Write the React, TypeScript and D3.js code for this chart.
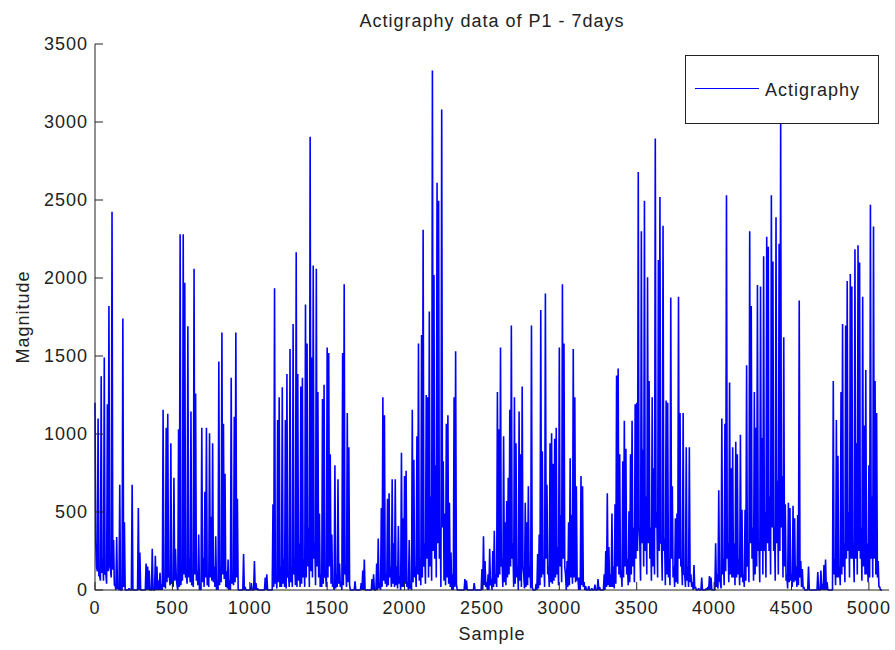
import React from 'react';
import * as d3 from 'd3';

// the trace is far denser than one point per pixel, so it is kept as
// a top value and a bottom value for every SAMPLE_STEP samples
const SAMPLE_STEP = 10;
const magnitude = [
  1200, 150, 1100, 90, 1370, 200, 1490, 110, 1190, 1820, 130, 2425, 320, 30, 340, 10, 675, 0, 1740, 435,
  0, 0, 10, 0, 675, 0, 0, 0, 525, 240, 0, 0, 0, 170, 150, 125, 0, 265, 0, 220,
  150, 60, 110, 40, 1155, 50, 1040, 1130, 90, 940, 60, 720, 265, 30, 1030, 2280, 150, 2280, 1970, 100,
  1690, 200, 1145, 80, 2060, 1260, 120, 355, 20, 1040, 205, 630, 1040, 90, 1005, 470, 940, 150, 345, 60,
  1465, 150, 1650, 1065, 745, 120, 195, 60, 1360, 110, 1110, 1650, 585, 0, 0, 0, 230, 20, 0, 0,
  0, 45, 0, 185, 45, 10, 0, 0, 0, 0, 80, 100, 0, 0, 0, 550, 1935, 90, 1090, 1235,
  150, 1300, 200, 1090, 1385, 100, 1545, 150, 1705, 200, 2165, 1385, 300, 1305, 1360, 200, 1830, 1580, 400, 2905,
  1490, 2080, 300, 2060, 1270, 490, 100, 1225, 1315, 100, 1555, 1520, 870, 355, 40, 800, 100, 710, 170, 50,
  1520, 1960, 150, 1135, 915, 0, 0, 0, 55, 0, 0, 0, 45, 125, 195, 0, 0, 0, 0, 70,
  100, 0, 170, 330, 50, 525, 1235, 1120, 100, 585, 620, 150, 710, 300, 710, 150, 410, 90, 880, 460,
  730, 765, 50, 320, 30, 1155, 835, 150, 985, 1580, 200, 1635, 2310, 300, 1250, 1235, 1785, 600, 3330, 2020,
  800, 2610, 2495, 400, 3080, 825, 490, 1065, 1120, 560, 240, 100, 1235, 1530, 0, 0, 0, 0, 0, 70,
  60, 0, 0, 0, 0, 45, 0, 0, 0, 0, 135, 345, 185, 50, 100, 265, 70, 250, 380, 100,
  1270, 1030, 1555, 200, 985, 435, 570, 720, 1155, 1695, 300, 1235, 940, 150, 1145, 870, 1305, 100, 560, 435,
  665, 150, 1695, 0, 0, 40, 230, 355, 1795, 890, 200, 1900, 675, 150, 940, 1005, 810, 970, 1040, 275,
  1555, 480, 1960, 1580, 100, 185, 435, 845, 480, 1545, 1235, 665, 80, 80, 730, 665, 50, 25, 0, 25,
  0, 10, 0, 35, 0, 70, 20, 0, 0, 100, 250, 620, 275, 100, 490, 150, 550, 1375, 1420, 870,
  120, 825, 1085, 905, 200, 505, 870, 1085, 400, 1190, 1200, 2680, 300, 2300, 900, 2495, 600, 2005, 1340, 400,
  1235, 780, 2895, 500, 2115, 2520, 300, 2335, 330, 1215, 1200, 200, 1875, 665, 150, 460, 490, 1880, 1135, 200,
  1135, 100, 915, 150, 915, 100, 50, 160, 20, 0, 10, 0, 80, 0, 0, 10, 20, 90, 80, 0,
  0, 300, 100, 640, 50, 1100, 200, 1065, 2530, 300, 1330, 780, 915, 300, 950, 870, 200, 995, 515, 100,
  515, 1440, 300, 2300, 1820, 400, 1270, 1040, 1955, 300, 1945, 975, 2140, 500, 2265, 2200, 600, 2530, 2105, 400,
  2390, 700, 2220, 3000, 730, 1620, 550, 100, 560, 525, 100, 540, 460, 150, 480, 1855, 185, 135, 20, 0,
  0, 150, 0, 0, 0, 0, 0, 115, 0, 125, 40, 160, 195, 50, 0, 0, 0, 1340, 200, 1090,
  860, 150, 1270, 1705, 300, 1695, 1980, 500, 2025, 1945, 300, 2185, 940, 2210, 2100, 400, 1880, 1055, 1410, 300,
  800, 2470, 600, 2330, 1340, 1135, 185, 20, 0,
];

// lower envelope of the same bins
const trough = [
  300, 120, 90, 60, 110, 60, 100, 40, 120, 150, 80, 130, 30, 0, 10, 0, 0, 0, 20, 0,
  0, 0, 0, 0, 0, 0, 0, 0, 0, 0, 0, 0, 0, 0, 0, 0, 0, 0, 0, 0,
  0, 0, 0, 0, 20, 10, 50, 80, 30, 40, 20, 60, 80, 0, 20, 30, 60, 100, 80, 40,
  80, 50, 30, 20, 100, 60, 30, 0, 0, 50, 20, 80, 30, 20, 80, 60, 50, 20, 0, 0,
  30, 50, 100, 70, 20, 10, 0, 0, 40, 30, 50, 80, 0, 0, 0, 0, 0, 0, 0, 0,
  0, 0, 0, 0, 0, 0, 0, 0, 0, 0, 0, 0, 0, 0, 0, 20, 40, 10, 50, 20,
  20, 40, 20, 10, 80, 20, 50, 20, 100, 30, 20, 60, 20, 40, 80, 20, 80, 150, 20, 120,
  80, 200, 30, 150, 80, 20, 20, 40, 80, 20, 80, 150, 40, 20, 0, 10, 20, 40, 20, 0,
  30, 100, 20, 50, 30, 0, 0, 0, 0, 0, 0, 0, 0, 0, 0, 0, 0, 0, 0, 0,
  0, 0, 0, 10, 0, 20, 60, 40, 20, 30, 80, 20, 40, 20, 30, 10, 40, 0, 20, 20,
  40, 20, 0, 10, 0, 50, 80, 20, 100, 60, 30, 80, 150, 40, 200, 80, 150, 60, 250, 200,
  80, 300, 200, 20, 400, 60, 30, 80, 40, 20, 0, 0, 20, 40, 0, 0, 0, 0, 0, 0,
  0, 0, 0, 0, 0, 0, 0, 0, 0, 0, 0, 30, 20, 0, 0, 30, 0, 20, 40, 20,
  80, 100, 150, 20, 50, 30, 80, 100, 150, 200, 20, 40, 80, 0, 60, 20, 150, 10, 20, 30,
  80, 10, 20, 0, 0, 0, 10, 30, 80, 100, 20, 200, 100, 20, 50, 40, 60, 80, 100, 30,
  150, 50, 200, 150, 0, 20, 30, 80, 40, 80, 50, 60, 0, 0, 30, 20, 0, 0, 0, 0,
  0, 0, 0, 0, 0, 0, 0, 0, 0, 0, 20, 30, 20, 20, 20, 10, 40, 150, 100, 80,
  20, 80, 150, 100, 30, 50, 100, 150, 50, 200, 250, 400, 60, 300, 150, 250, 100, 300, 200, 60,
  150, 100, 400, 80, 250, 300, 60, 250, 30, 100, 80, 30, 200, 80, 20, 50, 40, 200, 150, 30,
  100, 20, 60, 20, 50, 20, 0, 10, 0, 0, 0, 0, 0, 0, 0, 0, 0, 0, 0, 0,
  0, 20, 10, 60, 10, 100, 30, 120, 200, 50, 100, 80, 80, 30, 80, 100, 30, 80, 50, 20,
  60, 150, 50, 300, 200, 60, 100, 150, 250, 50, 250, 100, 250, 80, 300, 250, 100, 400, 250, 60,
  300, 100, 250, 400, 80, 150, 60, 10, 50, 60, 20, 50, 60, 20, 30, 80, 20, 10, 0, 0,
  0, 0, 0, 0, 0, 0, 0, 0, 0, 0, 0, 0, 0, 0, 0, 0, 0, 100, 30, 80,
  80, 30, 100, 150, 50, 200, 250, 80, 200, 200, 50, 200, 100, 250, 200, 60, 150, 100, 100, 50,
  80, 200, 80, 200, 100, 80, 20, 0, 0,
];

const xTicks = [0, 500, 1000, 1500, 2000, 2500, 3000, 3500, 4000, 4500, 5000];
const yTicks = [0, 500, 1000, 1500, 2000, 2500, 3000, 3500];
const X_MAX = 5130;
const Y_MAX = 3500;

const FONT = "'Liberation Sans', Arial, Helvetica, sans-serif";

export default function App() {
  const width = 895;
  const height = 650;
  const margin = { top: 44, right: 6, bottom: 60, left: 95 };

  const x = d3.scaleLinear().domain([0, X_MAX]).range([margin.left, width - margin.right]);
  const y = d3.scaleLinear().domain([0, Y_MAX]).range([height - margin.bottom, margin.top]);

  // top then bottom of each bin, in sample order
  const points: [number, number][] = magnitude.flatMap((v, i) => [
    [i * SAMPLE_STEP, v] as [number, number],
    [i * SAMPLE_STEP + SAMPLE_STEP / 2, trough[i]] as [number, number],
  ]);

  const line = d3.line<[number, number]>()
    .x(d => x(d[0]))
    .y(d => y(d[1]));

  const x0 = x.range()[0];
  const x1 = x.range()[1];
  const yb = y.range()[0];
  const yt = y.range()[1];
  const tickLen = 8;
  const txt = { fontFamily: FONT, fontSize: 18, letterSpacing: 1, fill: '#222' };

  return (
    <svg width={width} height={height} style={{ position: 'absolute', left: 0, top: 0, background: '#fff' }}>
      <rect x={0} y={0} width={width} height={height} fill="#fff" />

      {/* data */}
      <path d={line(points) || ''} fill="none" stroke="#0000ff" strokeWidth={1.6} strokeLinejoin="miter" strokeMiterlimit={1} />

      {/* axes */}
      <line x1={x0} x2={x0} y1={yt} y2={yb} stroke="#222" />
      <line x1={x0} x2={x1} y1={yb} y2={yb} stroke="#222" />

      {yTicks.map(t => (
        <g key={'y' + t}>
          <line x1={x0} x2={x0 + tickLen} y1={y(t)} y2={y(t)} stroke="#222" />
          <text x={x0 - 7} y={y(t) + 6} textAnchor="end" {...txt}>{t}</text>
        </g>
      ))}
      {xTicks.map(t => (
        <g key={'x' + t}>
          <line x1={x(t)} x2={x(t)} y1={yb} y2={yb - tickLen} stroke="#222" />
          <text x={x(t)} y={yb + 24} textAnchor="middle" {...txt}>{t}</text>
        </g>
      ))}

      {/* labels */}
      <text x={(x0 + x1) / 2} y={27} textAnchor="middle" {...txt}>Actigraphy data of P1 - 7days</text>
      <text x={(x0 + x1) / 2} y={640} textAnchor="middle" {...txt}>Sample</text>
      <text transform={`translate(29,${(yt + yb) / 2}) rotate(-90)`} textAnchor="middle" {...txt}>Magnitude</text>

      {/* legend */}
      <g>
        <rect x={685.5} y={55.5} width={193} height={68} fill="#fff" stroke="#222" />
        <line x1={695} x2={759} y1={88.5} y2={88.5} stroke="#0000ff" />
        <text x={765} y={96} {...txt}>Actigraphy</text>
      </g>
    </svg>
  );
}
